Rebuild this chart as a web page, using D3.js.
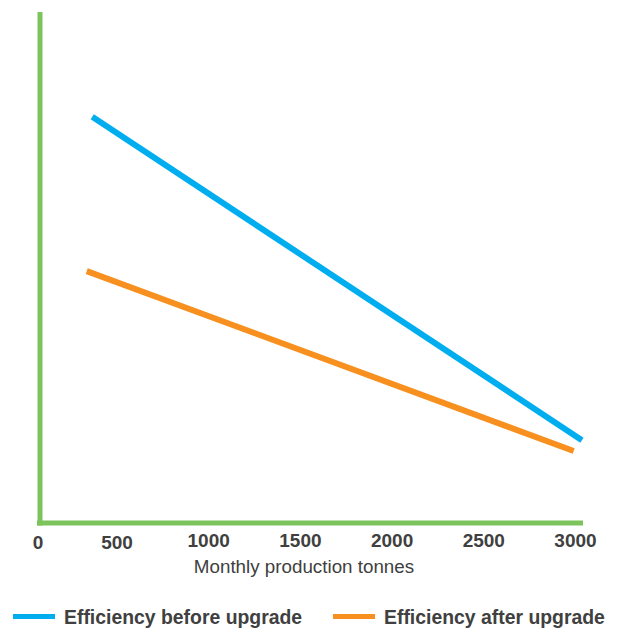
<!DOCTYPE html>
<html>
<head>
<meta charset="utf-8">
<script src="https://cdn.jsdelivr.net/npm/d3@7"></script>
<style>
  html, body { margin: 0; padding: 0; background: #fff; }
  svg { display: block; }
</style>
</head>
<body>
<svg id="chart" width="622" height="635"></svg>
<script>
// Monthly production (tonnes) against relative efficiency
const xTicks = [0, 500, 1000, 1500, 2000, 2500, 3000];
const beforeX = [365, 3035];
const beforeY = [79.5, 16.2];
const afterX = [335, 2990];
const afterY = [49.3, 14.1];
const seriesNames = ["Efficiency before upgrade", "Efficiency after upgrade"];
const xTitle = "Monthly production tonnes";

const colors = { before: "#00aeef", after: "#f7901e", axis: "#7cc35b", text: "#404040" };

const svg = d3.select("#chart");
const frame = { left: 40, top: 12, right: 583, bottom: 523 };

const x = d3.scaleLinear().domain([0, 3000]).range([25.3, 575.5]);
const y = d3.scaleLinear().domain([0, 100]).range([frame.bottom, frame.top]);

// Axis frame
svg.append("line")
  .attr("x1", frame.left).attr("x2", frame.left)
  .attr("y1", frame.top).attr("y2", frame.bottom + 2.5)
  .attr("stroke", colors.axis).attr("stroke-width", 5);
svg.append("line")
  .attr("x1", frame.left - 3).attr("x2", frame.right)
  .attr("y1", frame.bottom).attr("y2", frame.bottom)
  .attr("stroke", colors.axis).attr("stroke-width", 5);

// Tick labels
svg.append("g").selectAll("text")
  .data(xTicks)
  .join("text")
  .attr("x", d => d === 0 ? frame.left - 2 : x(d))
  .attr("y", d => d < 1000 ? 549 : 547)
  .attr("text-anchor", "middle")
  .attr("font-family", "'Liberation Sans', Arial, sans-serif")
  .attr("font-weight", "bold")
  .attr("font-size", 19)
  .attr("fill", colors.text)
  .text(d => d);

svg.append("text")
  .attr("x", 304).attr("y", 573)
  .attr("text-anchor", "middle")
  .attr("font-family", "'Liberation Sans', Arial, sans-serif")
  .attr("font-size", 18.8)
  .attr("fill", colors.text)
  .text(xTitle);

// Series lines
const line = d3.line().x(d => x(d[0])).y(d => y(d[1]));
const series = [
  { pts: d3.zip(beforeX, beforeY), color: colors.before },
  { pts: d3.zip(afterX, afterY), color: colors.after }
];
svg.append("g").selectAll("path")
  .data(series)
  .join("path")
  .attr("d", d => line(d.pts))
  .attr("fill", "none")
  .attr("stroke", d => d.color)
  .attr("stroke-width", 6)
  .attr("stroke-linecap", "butt");

// Legend
const legendItems = [
  { name: seriesNames[0], color: colors.before, x: 13 },
  { name: seriesNames[1], color: colors.after, x: 333 }
];
const lg = svg.append("g").selectAll("g")
  .data(legendItems)
  .join("g")
  .attr("transform", d => `translate(${d.x},616.5)`);
lg.append("line")
  .attr("x1", 0).attr("x2", 42)
  .attr("stroke", d => d.color).attr("stroke-width", 5);
lg.append("text")
  .attr("x", 51).attr("y", 7)
  .attr("font-family", "'Liberation Sans', Arial, sans-serif")
  .attr("font-weight", "bold")
  .attr("font-size", 19.4)
  .attr("fill", colors.text)
  .text(d => d.name);
</script>
</body>
</html>
